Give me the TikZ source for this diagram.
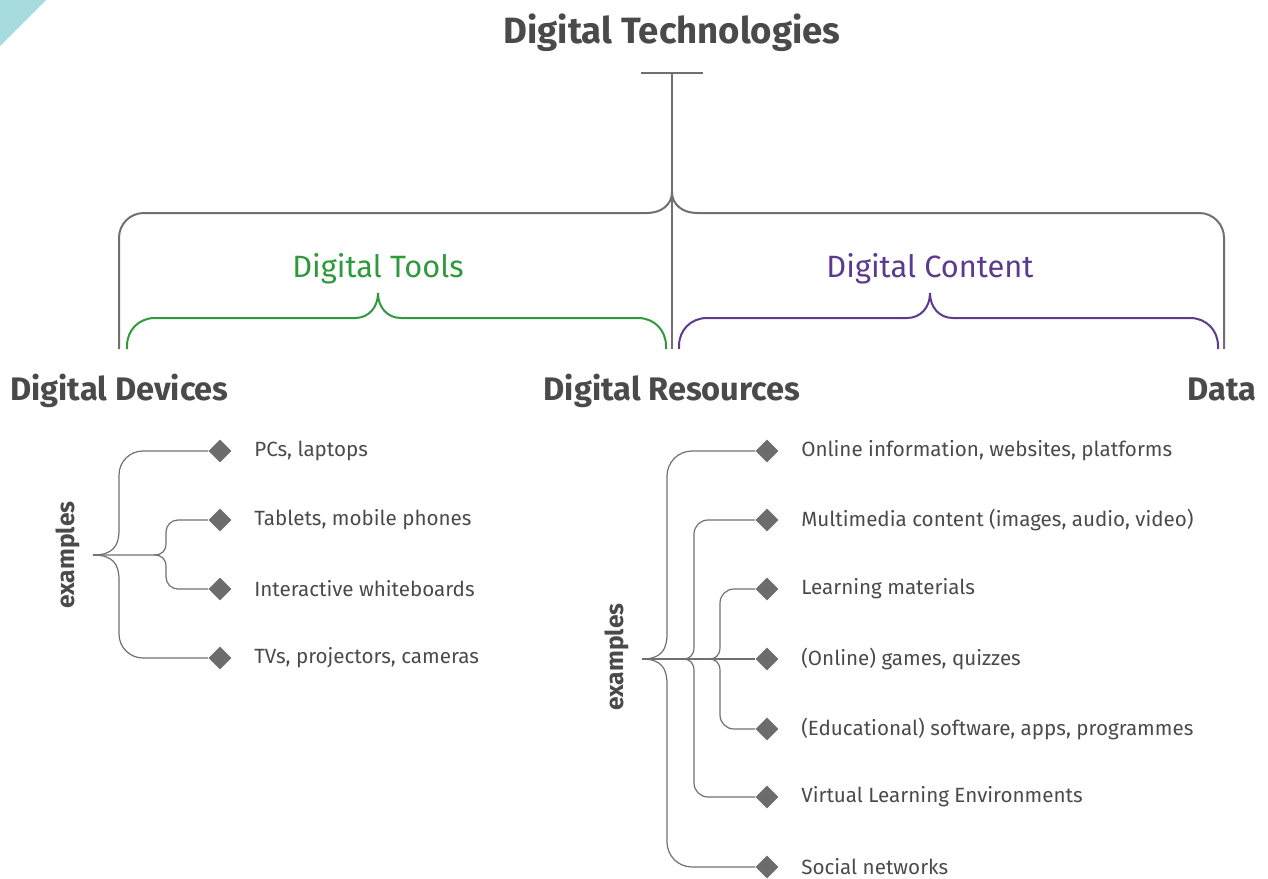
\documentclass[tikz,border=0pt]{standalone}
\usepackage{fontspec}
\setmainfont{Fira Sans}
\usetikzlibrary{positioning, shapes.geometric}
\definecolor{textgray}{RGB}{74,74,74}
\definecolor{linegray}{RGB}{112,112,112}
\definecolor{dotgray}{RGB}{108,108,108}
\definecolor{toolgreen}{RGB}{47,154,60}
\definecolor{contentpurple}{RGB}{92,58,142}
\definecolor{cornerteal}{RGB}{166,220,219}

\begin{document}
\begin{tikzpicture}[
  x=0.5pt, y=-0.5pt,
  heading/.style={font=\fontsize{16.3}{19}\selectfont\bfseries, text=textgray, inner sep=0pt},
  group/.style={font=\fontsize{15.4}{18}\selectfont, inner sep=0pt, anchor=base},
  item/.style={font=\fontsize{10.3}{12}\selectfont, text=textgray, inner sep=0pt, anchor=west},
  exlabel/.style={font=\fontsize{12.3}{14}\selectfont\bfseries, text=textgray, rotate=90, inner sep=0pt},
  dot/.style={diamond, fill=dotgray, minimum width=11.5pt, minimum height=11.5pt, inner sep=0pt},
  brace/.style={line width=1pt, linegray},
  branch/.style={line width=0.6pt, linegray}
]
\useasboundingbox (0,0) rectangle (1268,878);

% Corner mark
\fill[cornerteal] (0,0) -- (46,0) -- (0,46) -- cycle;

% Title and top bar
\node[heading, font=\fontsize{18.3}{22}\selectfont\bfseries, anchor=base] (title) at (672,43) {Digital Technologies};
\coordinate (tbar) at (672,73);
\coordinate (cusp) at (672,192);
\coordinate (stem) at (672,349);
\draw[brace] (641,73) -- (703,73);
\draw[brace] (tbar) -- (stem);

% Main brace
\coordinate (devtop) at (119,349);
\coordinate (datatop) at (1224,349);
\draw[brace] (devtop) -- (119,238) .. controls (119,224) and (130,213) .. (144,213) -- (647,213)
  .. controls (661,213) and (672,205) .. (cusp)
  .. controls (672,205) and (683,213) .. (697,213) -- (1199,213)
  .. controls (1213,213) and (1224,224) .. (1224,238) -- (datatop);

% Digital Tools brace
\node[group, text=toolgreen] (tools) at (378,277) {Digital Tools};
\coordinate (toolcusp) at (378,293);
\draw[line width=1pt, toolgreen] (127,349) -- (127,346) .. controls (127,330) and (139,318) .. (155,318) -- (355,318)
  .. controls (369,318) and (378,307) .. (toolcusp)
  .. controls (378,307) and (387,318) .. (401,318) -- (638,318)
  .. controls (654,318) and (666,330) .. (666,346) -- (666,349);

% Digital Content brace
\node[group, text=contentpurple] (content) at (930,277) {Digital Content};
\coordinate (contcusp) at (930,293);
\draw[line width=1pt, contentpurple] (679,349) -- (679,346) .. controls (679,330) and (691,318) .. (707,318) -- (907,318)
  .. controls (921,318) and (930,307) .. (contcusp)
  .. controls (930,307) and (939,318) .. (953,318) -- (1190,318)
  .. controls (1206,318) and (1218,330) .. (1218,346) -- (1218,349);

% Headings
\node[heading, anchor=base west] (devices) at (10,400) {Digital Devices};
\node[heading, anchor=base] (resources) at (672,400) {Digital Resources};
\node[heading, anchor=base east] (data) at (1257,400) {Data};

% Device examples
\node[exlabel] (devex) at (68,555) {examples};
\coordinate (devroot) at (93,555);
\node[dot] (d1) at (220,451) {};
\node[dot] (d2) at (220,520) {};
\node[dot] (d3) at (220,589) {};
\node[dot] (d4) at (220,658) {};
\node[item, right=11pt of d1] {PCs, laptops};
\node[item, right=11pt of d2] {Tablets, mobile phones};
\node[item, right=11pt of d3] {Interactive whiteboards};
\node[item, right=11pt of d4] {TVs, projectors, cameras};

\draw[branch] (devroot) .. controls (113,555) and (119,546) .. (119,530) [rounded corners=12pt] |- (d1.west);
\draw[branch] (devroot) .. controls (113,555) and (119,564) .. (119,580) [rounded corners=12pt] |- (d4.west);
\draw[branch] (devroot) -- (154,555) .. controls (162,555) and (166,551) .. (166,543) [rounded corners=6pt] |- (d2.west);
\draw[branch] (154,555) .. controls (162,555) and (166,559) .. (166,567) [rounded corners=6pt] |- (d3.west);

% Resource examples
\node[exlabel] (resex) at (617,657) {examples};
\coordinate (resroot) at (642,659);
\foreach \n/\y in {1/451, 2/520, 3/589, 4/659, 5/729, 6/797, 7/867}
  \node[dot] (r\n) at (767,\y) {};
\node[item, right=11pt of r1] {Online information, websites, platforms};
\node[item, right=11pt of r2] {Multimedia content (images, audio, video)};
\node[item, right=11pt of r3] {Learning materials};
\node[item, right=11pt of r4] {(Online) games, quizzes};
\node[item, right=11pt of r5] {(Educational) software, apps, programmes};
\node[item, right=11pt of r6] {Virtual Learning Environments};
\node[item, right=11pt of r7] {Social networks};

\draw[branch] (resroot) -- (r4.west);
\draw[branch] (resroot) .. controls (661,659) and (667,650) .. (667,634) [rounded corners=12.5pt] |- (r1.west);
\draw[branch] (resroot) .. controls (661,659) and (667,668) .. (667,684) [rounded corners=12.5pt] |- (r7.west);
\draw[branch] (683,659) .. controls (690,659) and (694,655) .. (694,647) [rounded corners=7pt] |- (r2.west);
\draw[branch] (683,659) .. controls (690,659) and (694,663) .. (694,671) [rounded corners=7pt] |- (r6.west);
\draw[branch] (709,659) .. controls (716,659) and (720,655) .. (720,647) [rounded corners=7pt] |- (r3.west);
\draw[branch] (709,659) .. controls (716,659) and (720,663) .. (720,671) [rounded corners=7pt] |- (r5.west);

\end{tikzpicture}
\end{document}
